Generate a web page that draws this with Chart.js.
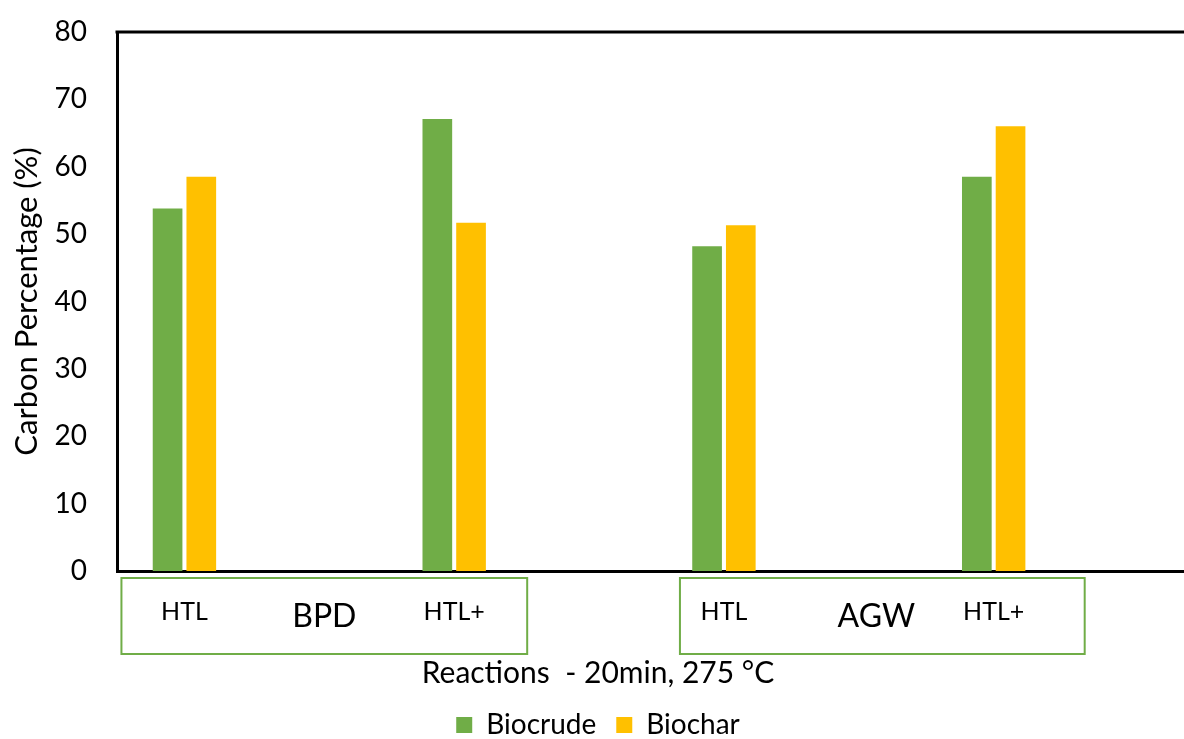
<!DOCTYPE html>
<html>
<head>
<meta charset="utf-8">
<script src="https://cdn.jsdelivr.net/npm/chart.js@4.4.1/dist/chart.umd.min.js"></script>
<style>
html, body { margin: 0; padding: 0; background: #fff; overflow: hidden; }
#wrap { width: 1196px; height: 739px; position: relative; }
</style>
</head>
<body>
<div id="wrap"><canvas id="carbonChart"></canvas></div>
<script>
// slots: HTL / (BPD) / HTL+ / gap / HTL / (AGW) / HTL+ / gap
const categories = ['HTL', '', 'HTL+', '', 'HTL', '', 'HTL+', ''];
const groupLabels = ['BPD', 'AGW'];
const biocrude = [53.8, null, 67.1, null, 48.2, null, 58.5, null];
const biochar = [58.5, null, 51.7, null, 51.3, null, 66.0, null];
const yMin = 0;
const yMax = 80;
const yStep = 10;

const FONT = 'Lato, "Noto Sans", sans-serif';
const GREEN = '#70AD47';
const GOLD = '#FFC000';

// green boxes round each feedstock group with its name, plus the top frame line
const groupBoxes = {
    id: 'groupBoxes',
    afterDraw(chart) {
        const { ctx, chartArea, scales: { x } } = chart;
        const boxTop = chartArea.bottom + 7;
        const h = 76;
        const boxes = [
            { l: x.getPixelForValue(0) - 63, r: x.getPixelForValue(2) + 73, dx: 0 },
            { l: x.getPixelForValue(4) - 44, r: x.getPixelForValue(6) + 91, dx: -6 }
        ];
        ctx.save();
        ctx.strokeStyle = GREEN;
        ctx.lineWidth = 2;
        ctx.fillStyle = '#000';
        ctx.font = `32px ${FONT}`;
        ctx.textAlign = 'center';
        ctx.textBaseline = 'middle';
        boxes.forEach((b, i) => {
            ctx.strokeRect(b.l, boxTop, b.r - b.l, h);
            ctx.fillText(groupLabels[i], (b.l + b.r) / 2 + b.dx, chartArea.bottom + 46);
        });
        ctx.strokeStyle = '#000';
        ctx.lineWidth = 3;
        ctx.beginPath();
        ctx.moveTo(chartArea.left - 1.5, chartArea.top);
        ctx.lineTo(chart.width, chartArea.top);
        ctx.stroke();
        ctx.restore();
    }
};

new Chart(document.getElementById('carbonChart'), {
    type: 'bar',
    data: {
        labels: categories,
        datasets: [
            {
                label: 'Biocrude',
                data: biocrude,
                backgroundColor: GREEN,
                categoryPercentage: 0.5,
                barPercentage: 0.88
            },
            {
                label: 'Biochar',
                data: biochar,
                backgroundColor: GOLD,
                categoryPercentage: 0.5,
                barPercentage: 0.88
            }
        ]
    },
    options: {
        responsive: true,
        maintainAspectRatio: false,
        animation: false,
        layout: { padding: { top: 32, left: 0, right: 0, bottom: 2 } },
        scales: {
            x: {
                grid: { display: false, drawTicks: false },
                border: { display: true, color: '#000', width: 3 },
                ticks: {
                    color: '#000',
                    padding: 26,
                    maxRotation: 0,
                    autoSkip: false,
                    font: { family: FONT, size: 25 }
                },
                afterFit: (scale) => { scale.height = 84; }
            },
            y: {
                min: yMin,
                max: yMax,
                grid: { display: false, drawTicks: false },
                border: { display: true, color: '#000', width: 3 },
                ticks: {
                    stepSize: yStep,
                    color: '#000',
                    padding: 30,
                    font: { family: FONT, size: 28 }
                },
                title: {
                    display: true,
                    text: 'Carbon Percentage (%)',
                    color: '#000',
                    padding: { top: 8, bottom: 0 },
                    font: { family: FONT, size: 31 }
                },
                afterFit: (scale) => {
                    scale.width = 117;
                    scale.paddingTop = 0;
                    scale.paddingBottom = 0;
                }
            }
        },
        plugins: {
            title: {
                display: true,
                position: 'bottom',
                weight: 500,
                text: 'Reactions  - 20min, 275 °C',
                color: '#000',
                padding: { top: 0, bottom: 0 },
                font: { family: FONT, size: 30, weight: 'normal' }
            },
            legend: {
                position: 'bottom',
                maxHeight: 46,
                labels: {
                    color: '#000',
                    boxWidth: 16,
                    boxHeight: 16,
                    padding: 20,
                    font: { family: FONT, size: 28 }
                }
            },
            tooltip: { enabled: false }
        }
    },
    plugins: [groupBoxes]
});
</script>
</body>
</html>
